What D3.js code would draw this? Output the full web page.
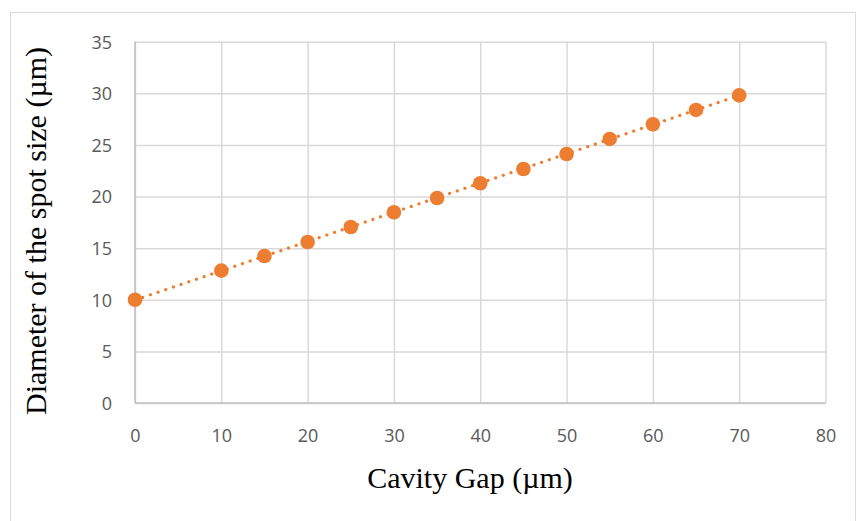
<!DOCTYPE html>
<html><head><meta charset="utf-8">
<script src="https://cdn.jsdelivr.net/npm/d3@7"></script>
<style>body{margin:0;background:#fff;}svg{display:block;}</style>
</head><body>
<svg id="chart" width="857" height="521"></svg>
<script>
const gapValues = [0, 10, 15, 20, 25, 30, 35, 40, 45, 50, 55, 60, 65, 70];
const spotDiameters = [10, 12.82, 14.24, 15.6, 17.05, 18.48, 19.86, 21.29, 22.67, 24.12, 25.58, 27.0, 28.39, 29.8];
const xTicks = [0, 10, 20, 30, 40, 50, 60, 70, 80];
const yTicks = [0, 5, 10, 15, 20, 25, 30, 35];
const xTitle = "Cavity Gap (µm)";
const yTitle = "Diameter of the spot size (µm)";

const svg = d3.select("#chart");
const W = 857, H = 521;
const plot = {left: 135, right: 825.5, top: 41.7, bottom: 403};

// chart frame
svg.append("path").attr("d", `M10.5,${H}V12.5H${W-1.5}V${H}`)
  .attr("fill", "none").attr("stroke", "#d9d9d9").attr("stroke-width", 1);

const x = d3.scaleLinear().domain([0, 80]).range([plot.left, plot.right]);
const y = d3.scaleLinear().domain([0, 35]).range([plot.bottom, plot.top]);

// gridlines
const gx = svg.append("g").attr("transform", `translate(0,${plot.bottom})`)
  .call(d3.axisBottom(x).tickValues(xTicks).tickSize(-(plot.bottom - plot.top)).tickFormat(""));
gx.select(".domain").remove();
gx.selectAll(".tick line").attr("stroke", "#d9d9d9").attr("stroke-width", 1.5);

const gy = svg.append("g").attr("transform", `translate(${plot.left},0)`)
  .call(d3.axisLeft(y).tickValues(yTicks).tickSize(-(plot.right - plot.left)).tickFormat(""));
gy.select(".domain").remove();
gy.selectAll(".tick line").attr("stroke", "#d9d9d9").attr("stroke-width", 1.5);

// axis lines
svg.append("line").attr("x1", plot.left).attr("x2", plot.left).attr("y1", plot.top).attr("y2", plot.bottom)
  .attr("stroke", "#bfbfbf").attr("stroke-width", 1.5);
svg.append("line").attr("x1", plot.left).attr("x2", plot.right).attr("y1", plot.bottom).attr("y2", plot.bottom)
  .attr("stroke", "#bfbfbf").attr("stroke-width", 1.5);

// tick labels
const xl = svg.append("g").attr("transform", `translate(0,${plot.bottom})`)
  .attr("font-size", null).attr("font-family", null)
  .call(d3.axisBottom(x).tickValues(xTicks).tickSize(0).tickPadding(0).tickFormat(d3.format("d")));
xl.attr("font-size", 18).attr("font-family", "'Open Sans', sans-serif");
xl.select(".domain").remove();
xl.selectAll("text").attr("y", 39).attr("dy", null).attr("fill", "#595959");

const yl = svg.append("g").attr("transform", `translate(${plot.left},0)`)
  .call(d3.axisLeft(y).tickValues(yTicks).tickSize(0).tickPadding(0).tickFormat(d3.format("d")));
yl.attr("font-size", 18).attr("font-family", "'Open Sans', sans-serif");
yl.select(".domain").remove();
yl.selectAll("text").attr("x", -23).attr("dy", "0.35em").attr("fill", "#595959");

// linear trendline (least squares of the data)
const n = gapValues.length;
const mx = d3.mean(gapValues), my = d3.mean(spotDiameters);
let sxy = 0, sxx = 0;
for (let i = 0; i < n; i++) { sxy += (gapValues[i]-mx)*(spotDiameters[i]-my); sxx += (gapValues[i]-mx)**2; }
const slope = sxy / sxx, icpt = my - slope * mx;
const x0 = d3.min(gapValues), x1 = d3.max(gapValues);
svg.append("line")
  .attr("x1", x(x0)).attr("y1", y(icpt + slope*x0))
  .attr("x2", x(x1)).attr("y2", y(icpt + slope*x1))
  .attr("stroke", "#ED7D31").attr("stroke-width", 3.2)
  .attr("stroke-linecap", "round").attr("stroke-dasharray", "0.1 8");

// points
svg.append("g").selectAll("circle").data(gapValues.map((g, i) => [g, spotDiameters[i]]))
  .join("circle").attr("cx", d => x(d[0])).attr("cy", d => y(d[1])).attr("r", 7.3)
  .attr("fill", "#ED7D31");

// titles
svg.append("text").attr("x", 470).attr("y", 488).attr("text-anchor", "middle")
  .attr("font-family", "'Liberation Serif', 'Times New Roman', serif").attr("font-size", 30).attr("fill", "#000")
  .text(xTitle);
svg.append("text").attr("transform", "translate(46,231) rotate(-90)").attr("text-anchor", "middle")
  .attr("font-family", "'Liberation Serif', 'Times New Roman', serif").attr("font-size", 30).attr("fill", "#000")
  .text(yTitle);
</script>
</body></html>
